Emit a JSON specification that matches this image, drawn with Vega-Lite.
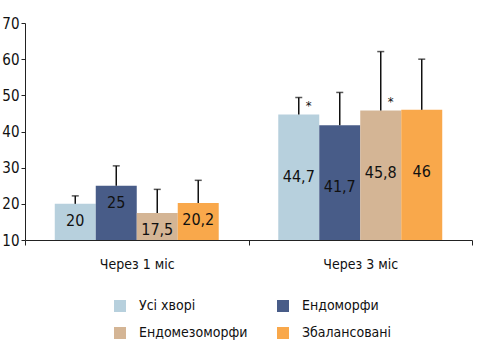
{
  "$schema": "https://vega.github.io/schema/vega-lite/v6.json",
  "width": 447,
  "height": 217,
  "autosize": "none",
  "padding": {"left": 25, "top": 23, "right": 6, "bottom": 114},
  "background": "white",
  "config": {
    "font": "DejaVu Sans Condensed, Roboto, sans-serif",
    "view": {"stroke": null},
    "axis": {"labelFont": "DejaVu Sans Condensed, Roboto, sans-serif", "labelFontSize": 14, "labelColor": "#111", "domainColor": "#222", "tickColor": "#222", "grid": false, "title": null, "labelOverlap": false},
    "axisY": {"tickSize": 4, "labelPadding": 2, "labelFlush": false, "labelFontSize": 15, "labelFont": "DejaVu Sans Condensed, Roboto, sans-serif"}
  },
  "data": {
    "values": [
      {"period": "Через 1 міс", "group": "Усі хворі", "value": 20, "err": 22.2, "label": "20", "sig": ""},
      {"period": "Через 1 міс", "group": "Ендоморфи", "value": 25, "err": 30.5, "label": "25", "sig": ""},
      {"period": "Через 1 міс", "group": "Ендомезоморфи", "value": 17.5, "err": 24.0, "label": "17,5", "sig": ""},
      {"period": "Через 1 міс", "group": "Збалансовані", "value": 20.2, "err": 26.5, "label": "20,2", "sig": ""},
      {"period": "Через 3 міс", "group": "Усі хворі", "value": 44.7, "err": 49.4, "label": "44,7", "sig": "*"},
      {"period": "Через 3 міс", "group": "Ендоморфи", "value": 41.7, "err": 50.8, "label": "41,7", "sig": ""},
      {"period": "Через 3 міс", "group": "Ендомезоморфи", "value": 45.8, "err": 62.1, "label": "45,8", "sig": "*"},
      {"period": "Через 3 міс", "group": "Збалансовані", "value": 46, "err": 60.0, "label": "46", "sig": ""}
    ]
  },
  "encoding": {
    "x": {
      "field": "period", "type": "nominal",
      "scale": {"paddingInner": 0, "paddingOuter": 0},
      "axis": {"labelAngle": 0, "tickBand": "extent", "tickSize": 5, "labelPadding": 12, "domainWidth": 1}
    },
    "xOffset": {
      "field": "group", "type": "nominal",
      "sort": ["Усі хворі", "Ендоморфи", "Ендомезоморфи", "Збалансовані"],
      "scale": {"paddingInner": 0, "paddingOuter": 0.726}
    }
  },
  "layer": [
    {
      "mark": {"type": "bar", "strokeWidth": 0},
      "encoding": {
        "y": {
          "field": "value", "type": "quantitative",
          "scale": {"domain": [10, 70], "zero": false, "nice": false},
          "axis": {"values": [10, 20, 30, 40, 50, 60, 70]}
        },
        "y2": {"datum": 10},
        "color": {
          "field": "group", "type": "nominal",
          "sort": ["Усі хворі", "Ендоморфи", "Ендомезоморфи", "Збалансовані"],
          "scale": {"domain": ["Усі хворі", "Ендоморфи", "Ендомезоморфи", "Збалансовані"], "range": ["#B7D0DD", "#485C88", "#D4B595", "#F9A84B"]},
          "legend": {
            "title": null, "orient": "none", "legendX": 88, "legendY": 276, "direction": "horizontal",
            "columns": 2, "columnPadding": 28, "rowPadding": 13,
            "symbolType": "square", "symbolSize": 144, "symbolStrokeWidth": 0,
            "labelFontSize": 14, "labelFont": "DejaVu Sans Condensed, Roboto, sans-serif", "labelColor": "#111", "labelOffset": 12, "padding": 0
          }
        }
      }
    },
    {
      "mark": {"type": "rule", "color": "#111", "strokeWidth": 1.5},
      "encoding": {
        "y": {"field": "value", "type": "quantitative", "axis": {"values": [10, 20, 30, 40, 50, 60, 70]}},
        "y2": {"field": "err"}
      }
    },
    {
      "mark": {"type": "tick", "color": "#111", "thickness": 1.5, "size": 7, "orient": "horizontal"},
      "encoding": {
        "y": {"field": "err", "type": "quantitative", "axis": {"values": [10, 20, 30, 40, 50, 60, 70]}}
      }
    },
    {
      "transform": [{"filter": "datum.period == 'Через 1 міс'"}],
      "mark": {"type": "text", "fontSize": 16, "color": "#111", "baseline": "middle", "dy": 17},
      "encoding": {
        "y": {"field": "value", "type": "quantitative", "axis": {"values": [10, 20, 30, 40, 50, 60, 70]}},
        "text": {"field": "label"}
      }
    },
    {
      "transform": [{"filter": "datum.period == 'Через 3 міс'"}],
      "mark": {"type": "text", "fontSize": 16, "color": "#111", "baseline": "middle", "dy": 62},
      "encoding": {
        "y": {"field": "value", "type": "quantitative", "axis": {"values": [10, 20, 30, 40, 50, 60, 70]}},
        "text": {"field": "label"}
      }
    },
    {
      "transform": [{"filter": "datum.sig == '*'"}],
      "mark": {"type": "text", "fontSize": 13, "color": "#111", "baseline": "middle", "dx": 10, "dy": -9},
      "encoding": {
        "y": {"field": "value", "type": "quantitative", "axis": {"values": [10, 20, 30, 40, 50, 60, 70]}},
        "text": {"field": "sig"}
      }
    }
  ]
}
